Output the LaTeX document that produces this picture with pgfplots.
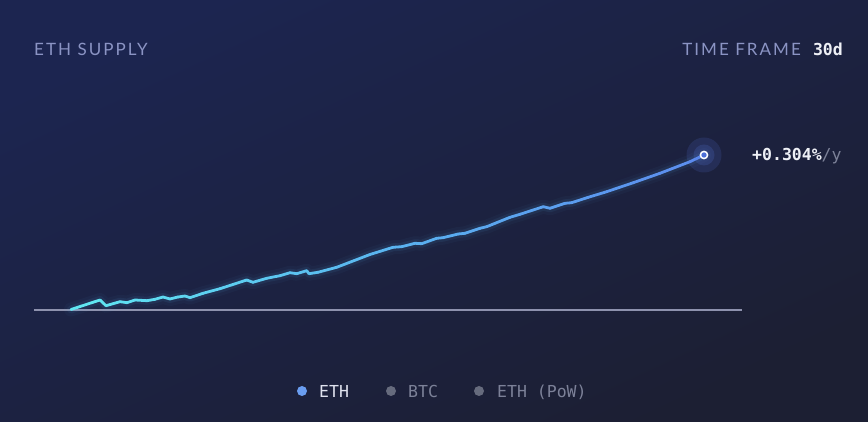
\documentclass[border=0pt]{standalone}
\usepackage{pgfplots}
\pgfplotsset{compat=1.18}
\usepackage{fontspec}
\newfontfamily\labfont[LetterSpace=12]{Lato}
\newfontfamily\monofont{DejaVu Sans Mono}
\definecolor{bgUL}{HTML}{1C2550}
\definecolor{bgLR}{HTML}{1C1F33}
\definecolor{labcol}{HTML}{8B94C4}
\definecolor{basecol}{HTML}{8E92AE}
\definecolor{ethdot}{HTML}{6A9DF0}
\definecolor{greydot}{HTML}{666B7D}
\definecolor{greytxt}{HTML}{7C8198}
\definecolor{whtxt}{HTML}{EEF0F6}
\definecolor{glowcol}{HTML}{5AB4F0}
\definecolor{halocol}{HTML}{5B7DE8}
\definecolor{dotfill}{HTML}{4D6FD8}
\pgfplotstableread{
x y
71 112.5
100 122
106 116.3
120 120.3
127 119.3
135 122
147 121.3
155 122.7
163 125
170 123
178 125
185 126
190 124.3
203 128.7
220 133.3
246.7 142
253 139.7
266.7 143.7
280 146.3
290 149.3
296.7 148.3
306.7 151.3
309 148.3
318 149.7
336.7 154.7
370 167.5
393 174.7
401.7 175.3
415 178.7
421.7 178.3
436.7 183.7
443 184.3
458.3 188
465 188.7
480 193.7
486.7 195.3
510 204.7
520 207.7
543.3 215.3
550 213.7
565 218.7
571.7 219.3
588.3 224.7
606.7 230.3
633.3 239.3
660 248.7
690 260.3
704 267
}\supply
\begin{document}
\begin{tikzpicture}[x=1pt,y=1pt]
\shade[top color=bgUL, bottom color=bgLR, shading angle=25] (0,0) rectangle (868,422);
\begin{axis}[
  at={(0pt,0pt)}, anchor=south west,
  width=868pt, height=422pt, scale only axis,
  xmin=0, xmax=868, ymin=0, ymax=422,
  hide axis, clip=false,
]
% baseline
\addplot[basecol, line width=1.5pt] coordinates {(34,112) (742,112)};
% glow
\addplot[glowcol, line width=14pt, opacity=0.04, line join=round, line cap=round] table[x=x,y=y] {\supply};
\addplot[glowcol, line width=8pt, opacity=0.08, line join=round, line cap=round] table[x=x,y=y] {\supply};
% line
\addplot[mesh, point meta=x, line width=2.8pt, line join=round, line cap=round,
  colormap={ethline}{rgb255(0)=(96,232,242) rgb255(1)=(90,180,240) rgb255(2)=(92,140,238)}]
  table[x=x,y=y] {\supply};
% translucent halo round the end point
\addplot[only marks, mark=*, mark size=17.5pt, halocol, mark options={fill=halocol, fill opacity=0.15, draw opacity=0}] coordinates {(704,267)};
\addplot[only marks, mark=*, mark size=10.5pt, halocol, mark options={fill=halocol, fill opacity=0.18, draw opacity=0}] coordinates {(704,267)};
% end dot
\addplot[only marks, mark=*, mark size=3.6pt, mark options={fill=dotfill, draw=white, line width=1.5pt}] coordinates {(704,267)};
\end{axis}
% texts
\node[anchor=base west, inner sep=0, text=labcol, font=\labfont\fontsize{17}{19}\selectfont] at (34,366) {ETH SUPPLY};
\node[anchor=base east, inner sep=0, text=labcol, font=\labfont\fontsize{17}{19}\selectfont] at (801,366) {TIME FRAME};
\node[anchor=base east, inner sep=0, text=whtxt, font=\monofont\bfseries\fontsize{16.5}{18}\selectfont] at (843,366) {30d};
\node[anchor=base west, inner sep=0, font=\monofont\fontsize{16.5}{18}\selectfont] at (752,261) {\textcolor{whtxt}{\bfseries +0.304\%}\textcolor{greytxt}{/y}};
% legend
\fill[ethdot] (302,31) circle (5);
\node[anchor=base west, inner sep=0, text=whtxt!85!labcol, font=\monofont\fontsize{16.5}{18}\selectfont] at (319,24) {ETH};
\fill[greydot] (391,31) circle (5);
\node[anchor=base west, inner sep=0, text=greytxt, font=\monofont\fontsize{16.5}{18}\selectfont] at (408,24) {BTC};
\fill[greydot] (479,31) circle (5);
\node[anchor=base west, inner sep=0, text=greytxt, font=\monofont\fontsize{16.5}{18}\selectfont] at (497,24) {ETH (PoW)};
\end{tikzpicture}
\end{document}
